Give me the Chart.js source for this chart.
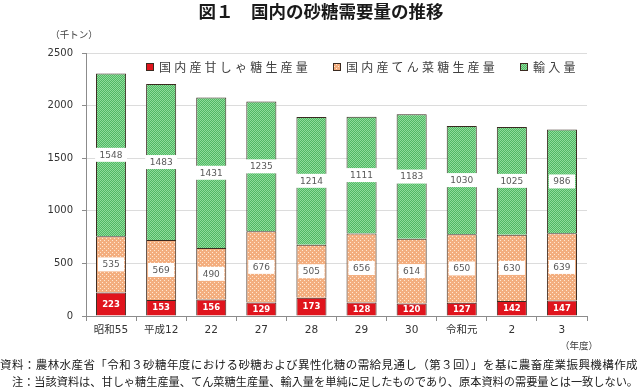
<!DOCTYPE html>
<html>
<head>
<meta charset="utf-8">
<script src="https://cdn.jsdelivr.net/npm/chart.js@4.4.1/dist/chart.umd.min.js"></script>
<style>
html,body{margin:0;padding:0;background:#fff;}
#wrap{position:relative;width:640px;height:389px;}
canvas{display:block;}
</style>
</head>
<body>
<div id="wrap"><canvas id="c" width="640" height="389"></canvas></div>
<script>
// ---- data ----
const categories = ["昭和55", "平成12", "22", "27", "28", "29", "30", "令和元", "2", "3"];
const caneSugar = [223, 153, 156, 129, 173, 128, 120, 127, 142, 147];
const beetSugar = [535, 569, 490, 676, 505, 656, 614, 650, 630, 639];
const imports   = [1548, 1483, 1431, 1235, 1214, 1111, 1183, 1030, 1025, 986];
const seriesNames = ["国内産甘しゃ糖生産量", "国内産てん菜糖生産量", "輸入量"];
const yTicks = [0, 500, 1000, 1500, 2000, 2500];
const titleText = "図１　国内の砂糖需要量の推移";
const unitText = "（千トン）";
const xUnitText = "（年度）";
const note1 = "資料：農林水産省「令和３砂糖年度における砂糖および異性化糖の需給見通し（第３回）」を基に農畜産業振興機構作成";
const note2 = "注：当該資料は、甘しゃ糖生産量、てん菜糖生産量、輸入量を単純に足したものであり、原本資料の需要量とは一致しない。";

// ---- patterns ----
function beetPattern() {
  const p = document.createElement('canvas'); p.width = 4; p.height = 4;
  const g = p.getContext('2d');
  g.fillStyle = '#f3ae7f'; g.fillRect(0, 0, 4, 4);
  g.fillStyle = 'rgba(255,235,215,0.95)';
  g.fillRect(0, 0, 1, 1); g.fillRect(2, 2, 1, 1);
  return g.createPattern(p, 'repeat');
}
function greenPattern() {
  const p = document.createElement('canvas'); p.width = 4; p.height = 4;
  const g = p.getContext('2d');
  g.fillStyle = '#50b864'; g.fillRect(0, 0, 4, 4);
  g.fillStyle = '#8fdc9b';
  for (let i = 0; i < 4; i++) { g.fillRect(i, i, 1, 1); g.fillRect((i + 2) % 4, i, 1, 1); }
  return g.createPattern(p, 'repeat');
}
const RED = '#e0141d';
const BEET = beetPattern();
const GREEN = greenPattern();
const BORDER = '#3a2a20';

const CJK = '"Noto Sans CJK JP", "Noto Sans", sans-serif';
const NUM = '"DejaVu Sans", "Noto Sans CJK JP", sans-serif';

function fitText(ctx, text, x, y, target) {
  ctx.save();
  const w = ctx.measureText(text).width;
  if (w < target && 'letterSpacing' in ctx) {
    const n = [...text].length;
    ctx.letterSpacing = ((target - w) / n) + 'px';
    ctx.fillText(text, x, y);
  } else {
    ctx.fillText(text, x, y, target);
  }
  ctx.restore();
}

const decorPlugin = {
  id: 'decor',
  afterDraw(chart) {
    const ctx = chart.ctx;
    ctx.save();
    // title
    ctx.fillStyle = '#1a1a1a';
    ctx.font = 'bold 17.5px ' + CJK;
    ctx.textAlign = 'center'; ctx.textBaseline = 'middle';
    ctx.fillText(titleText, 321, 11);
    // unit
    ctx.fillStyle = '#404040';
    ctx.font = '9.5px ' + CJK;
    ctx.fillText(unitText, 74, 34);
    ctx.fillText(xUnitText, 579, 345);
    // legend
    const items = [
      {x: 146, fill: RED, t: seriesNames[0]},
      {x: 333, fill: BEET, t: seriesNames[1]},
      {x: 520, fill: GREEN, t: seriesNames[2]}
    ];
    items.forEach(it => {
      ctx.fillStyle = it.fill;
      ctx.fillRect(it.x, 63, 8, 8);
      ctx.strokeStyle = BORDER; ctx.lineWidth = 1;
      ctx.strokeRect(it.x + 0.5, 63.5, 7, 7);
      ctx.fillStyle = '#404040';
      ctx.font = '12px ' + CJK;
      ctx.textAlign = 'left'; ctx.textBaseline = 'middle';
      const n = [...it.t].length;
      fitText(ctx, it.t, it.x + 13, 67.5, n * 15.2);
    });
    // footnotes
    ctx.fillStyle = '#1a1a1a';
    ctx.font = '11.5px ' + CJK;
    ctx.textAlign = 'left'; ctx.textBaseline = 'middle';
    fitText(ctx, note1, 0, 365, 638);
    fitText(ctx, note2, 12, 382, 626);
    ctx.restore();
  }
};

const labelPlugin = {
  id: 'segLabels',
  afterDatasetsDraw(chart) {
    const ctx = chart.ctx;
    ctx.save();
    ctx.textAlign = 'center'; ctx.textBaseline = 'middle';
    chart.data.datasets.forEach((ds, di) => {
      const meta = chart.getDatasetMeta(di);
      meta.data.forEach((bar, j) => {
        const v = ds.data[j];
        const cy = (bar.y + bar.base) / 2;
        const txt = String(v);
        if (di === 0) {
          ctx.font = 'bold 8.5px ' + NUM;
          ctx.fillStyle = '#ffffff';
          ctx.fillText(txt, bar.x, cy + 0.5);
        } else {
          ctx.font = '9px ' + NUM;
          const w = ctx.measureText(txt).width + 9;
          ctx.fillStyle = '#ffffff';
          ctx.fillRect(bar.x - w / 2, cy - 7, w, 14);
          ctx.fillStyle = '#595959';
          ctx.fillText(txt, bar.x, cy + 0.5);
        }
      });
    });
    ctx.restore();
  }
};

new Chart(document.getElementById('c'), {
  type: 'bar',
  data: {
    labels: categories,
    datasets: [
      {label: seriesNames[0], data: caneSugar, backgroundColor: RED, borderColor: BORDER, borderWidth: 1},
      {label: seriesNames[1], data: beetSugar, backgroundColor: BEET, borderColor: BORDER, borderWidth: 1},
      {label: seriesNames[2], data: imports, backgroundColor: GREEN, borderColor: BORDER, borderWidth: 1}
    ]
  },
  options: {
    responsive: false,
    devicePixelRatio: 1,
    animation: false,
    layout: {padding: {left: 0, right: 53, top: 53, bottom: 48}},
    datasets: {bar: {categoryPercentage: 1.0, barPercentage: 0.6}},
    plugins: {legend: {display: false}, title: {display: false}, tooltip: {enabled: false}},
    scales: {
      x: {
        stacked: true,
        grid: {display: true, drawOnChartArea: false, offset: true, tickLength: 5, tickColor: '#8c8c8c'},
        border: {display: true, color: '#8c8c8c', width: 1},
        ticks: {color: '#333333', font: {family: NUM, size: 10.5}, padding: 3, maxRotation: 0, autoSkip: false},
        afterFit(s) { s.height = 25; }
      },
      y: {
        stacked: true,
        min: 0, max: 2500,
        afterBuildTicks(s) { s.ticks = yTicks.map(v => ({value: v})); },
        grid: {color: '#dcdcdc', tickLength: 4, tickColor: '#8c8c8c'},
        border: {display: true, color: '#8c8c8c', width: 1},
        ticks: {color: '#333333', font: {family: NUM, size: 10}, padding: 9, callback: v => String(v)},
        afterFit(s) { s.width = 86; }
      }
    }
  },
  plugins: [labelPlugin, decorPlugin]
});
</script>
</body>
</html>
